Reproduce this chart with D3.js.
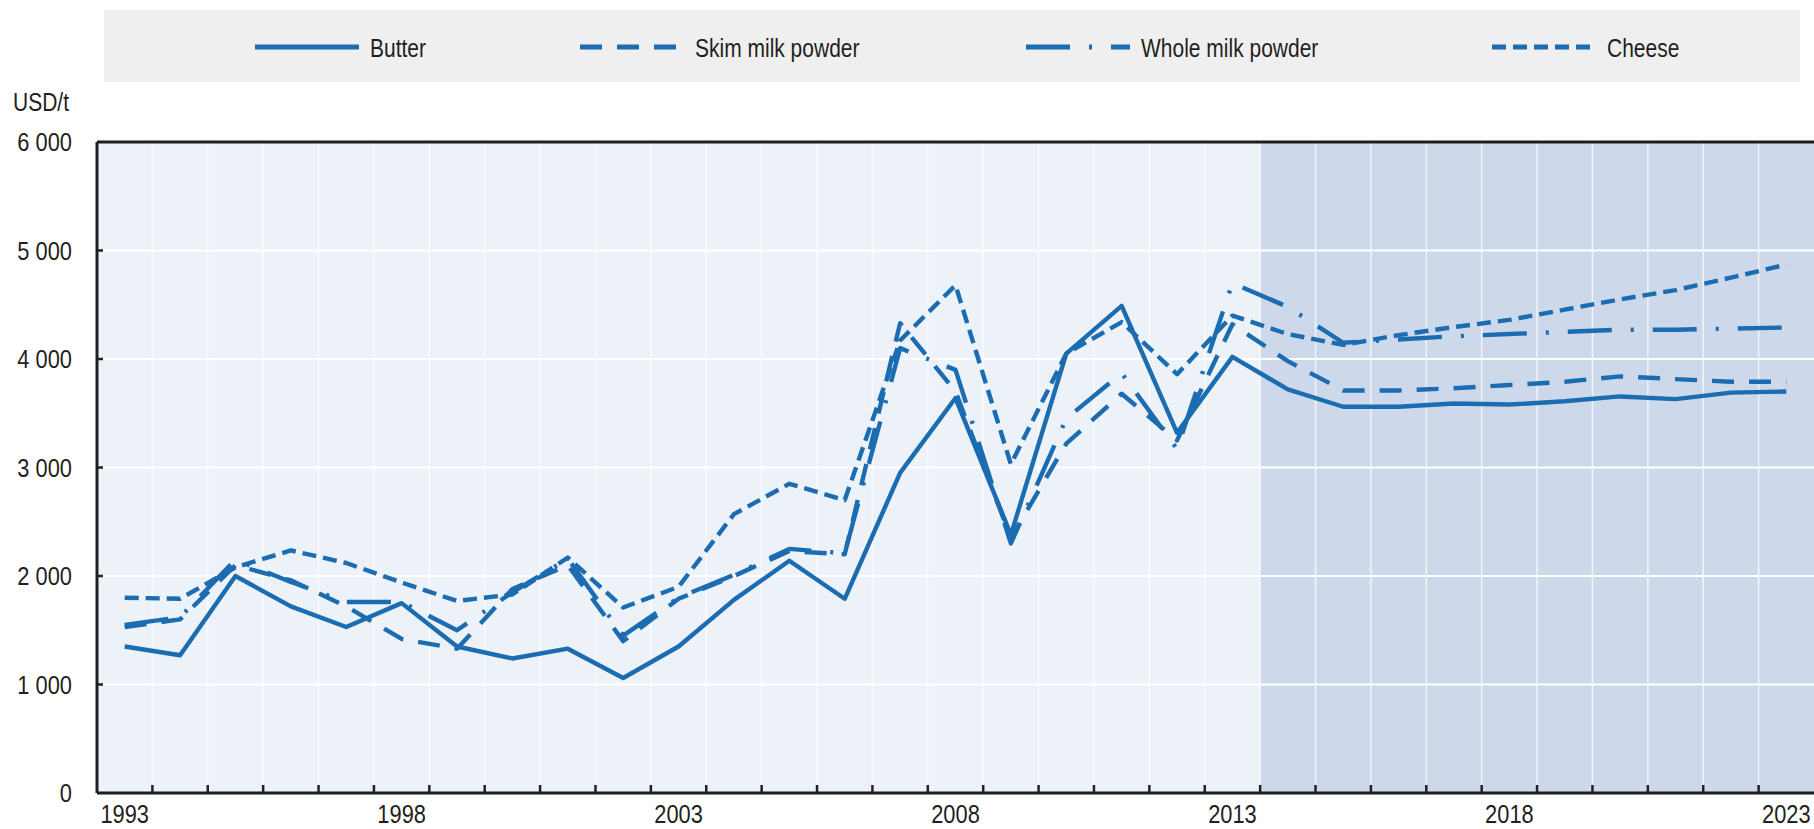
<!DOCTYPE html>
<html><head><meta charset="utf-8">
<script src="https://cdn.jsdelivr.net/npm/d3@7"></script>
<style>
body{margin:0;background:#fff;}
svg{display:block;}
text{font-family:"Liberation Sans",Arial,sans-serif;fill:#231f20;}
</style>
</head><body>
<svg id="c" width="1814" height="829"></svg>
<script>
const years = [1993,1994,1995,1996,1997,1998,1999,2000,2001,2002,2003,2004,2005,2006,2007,2008,2009,2010,2011,2012,2013,2014,2015,2016,2017,2018,2019,2020,2021,2022,2023];
const butter = [1350,1270,2000,1720,1530,1750,1350,1240,1330,1060,1350,1780,2140,1790,2950,3640,2380,4050,4490,3320,4020,3720,3560,3560,3590,3580,3610,3655,3630,3690,3700];
const skimMilkPowder = [1530,1600,2100,1960,1720,1420,1330,1880,2100,1400,1790,2000,2230,2200,4330,3700,2350,3220,3680,3250,4320,3980,3710,3710,3730,3760,3790,3840,3815,3790,3790];
const wholeMilkPowder = [1550,1620,2150,1945,1760,1760,1500,1850,2160,1450,1800,2010,2250,2210,4100,3900,2300,3450,3870,3170,4700,4480,4150,4180,4210,4230,4250,4270,4270,4280,4290];
const cheese = [1800,1790,2080,2236,2120,1940,1770,1830,2170,1710,1900,2570,2850,2700,4170,4680,3030,4050,4340,3860,4400,4230,4130,4220,4295,4360,4455,4550,4635,4750,4870];
const seriesNames = ["Butter","Skim milk powder","Whole milk powder","Cheese"];
const yTicks = [0,1000,2000,3000,4000,5000,6000];
const xTickLabels = [1993,1998,2003,2008,2013,2018,2023];
const projectionStart = 2014;
const yUnit = "USD/t";

const svg = d3.select("#c");
const m = {left:97, right:1814, top:142, bottom:793};
const blue = "#1b6cb1";
const dashes = ["none","22,15","44,19,3,19","14,7"];
const seriesValues = [butter, skimMilkPowder, wholeMilkPowder, cheese];
const SX = 0.84;

const x = d3.scaleBand().domain(years).range([m.left, m.right]).paddingInner(0).paddingOuter(0);
const y = d3.scaleLinear().domain([0,6000]).range([m.bottom, m.top]);
const fmt = d3.formatLocale({decimal:".", thousands:" ", grouping:[3], currency:["",""]}).format(",");

function label(g, tx, ty, str, size, anchor){
  return g.append("text").attr("transform",`translate(${tx},${ty}) scale(${SX},1)`)
    .attr("text-anchor",anchor).attr("dy","0.35em").attr("font-size",size).text(str);
}

// legend
svg.append("rect").attr("x",104).attr("y",10).attr("width",1696).attr("height",72).attr("fill","#efefef");
const legendX = [255, 580, 1026, 1492];
seriesNames.forEach((n,i)=>{
  const g = svg.append("g").attr("transform",`translate(${legendX[i]},47)`);
  g.append("line").attr("x1",0).attr("x2",104).attr("y1",0).attr("y2",0)
    .attr("stroke",blue).attr("stroke-width",5)
    .attr("stroke-dasharray", dashes[i]==="none"?null:dashes[i]);
  label(g, 115, 1, n, 25, "start");
});

// plot backgrounds
svg.append("rect").attr("x",m.left).attr("y",m.top).attr("width",x(projectionStart)-m.left).attr("height",m.bottom-m.top).attr("fill","#edf1f8");
svg.append("rect").attr("x",x(projectionStart)).attr("y",m.top).attr("width",m.right-x(projectionStart)).attr("height",m.bottom-m.top).attr("fill","#cdd9ea");

// grid
const grid = svg.append("g");
years.slice(1).forEach(yr=>{
  grid.append("line").attr("x1",x(yr)).attr("x2",x(yr)).attr("y1",m.top).attr("y2",m.bottom)
    .attr("stroke","#ffffff").attr("stroke-opacity",0.7).attr("stroke-width",1.5);
});
yTicks.slice(1,-1).forEach(v=>{
  grid.append("line").attr("x1",m.left).attr("x2",m.right).attr("y1",y(v)).attr("y2",y(v))
    .attr("stroke","#ffffff").attr("stroke-width",2);
});

// y axis
const yg = svg.append("g");
yTicks.forEach(v=> label(yg, 72, y(v), fmt(v), 26, "end"));
yTicks.slice(1,-1).forEach(v=>{
  svg.append("line").attr("x1",m.left).attr("x2",m.left+6).attr("y1",y(v)).attr("y2",y(v)).attr("stroke","#222").attr("stroke-width",2.5);
});
label(svg, 13, 102, yUnit, 25, "start");

// lines
const line = d3.line().x((d,i)=>x(years[i])+x.bandwidth()/2).y(d=>y(d));
seriesValues.forEach((vals,i)=>{
  svg.append("path").datum(vals).attr("d",line).attr("fill","none")
    .attr("stroke",blue).attr("stroke-width",4.4).attr("stroke-linejoin","round")
    .attr("stroke-dasharray", dashes[i]==="none"?null:dashes[i]);
});

// x axis
years.slice(1).forEach(yr=>{
  svg.append("line").attr("x1",x(yr)).attr("x2",x(yr)).attr("y1",m.bottom).attr("y2",m.bottom-8)
    .attr("stroke","#222").attr("stroke-width",2.5);
});
const xg = svg.append("g");
xTickLabels.forEach(yr=> label(xg, x(yr)+x.bandwidth()/2, 814, String(yr), 26, "middle"));

// frame
svg.append("line").attr("x1",m.left).attr("x2",m.right).attr("y1",m.top).attr("y2",m.top).attr("stroke","#1e1e1e").attr("stroke-width",3);
svg.append("line").attr("x1",m.left).attr("x2",m.left).attr("y1",m.top).attr("y2",m.bottom).attr("stroke","#1e1e1e").attr("stroke-width",3);
svg.append("line").attr("x1",m.left).attr("x2",m.right).attr("y1",m.bottom).attr("y2",m.bottom).attr("stroke","#1e1e1e").attr("stroke-width",3);
</script>
</body></html>
